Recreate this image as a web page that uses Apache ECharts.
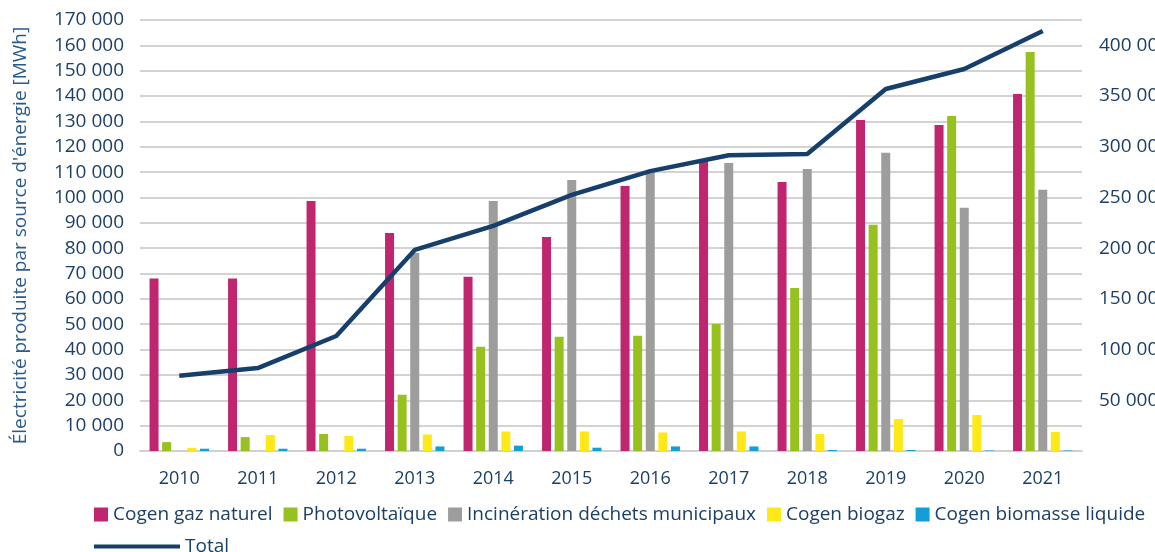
<!DOCTYPE html>
<html>
<head>
<meta charset="utf-8">
<script src="https://cdn.jsdelivr.net/npm/echarts@6/dist/echarts.min.js"></script>
<style>
  html, body { margin: 0; padding: 0; background: #fff; }
  #chart { width: 1155px; height: 552px; }
</style>
</head>
<body>
<div id="chart"></div>
<script>
var years = ['2010', '2011', '2012', '2013', '2014', '2015', '2016', '2017', '2018', '2019', '2020', '2021'];
var cogenGaz = [68000, 68000, 98600, 86000, 68700, 84400, 104500, 114500, 106100, 130600, 128600, 140800];
var photovoltaique = [3500, 5500, 6700, 22200, 41100, 45100, 45500, 50200, 64300, 89200, 132100, 157400];
var incineration = [0, 0, 0, 78100, 98600, 106900, 110000, 113600, 111200, 117600, 95900, 103000];
var biogaz = [1200, 6300, 5900, 6500, 7700, 7700, 7300, 7700, 6700, 12600, 14200, 7500];
var biomasse = [900, 900, 900, 1800, 2100, 1300, 1800, 1800, 400, 400, 200, 200];
var total = [74300, 81800, 113400, 198300, 222000, 252500, 276000, 291700, 292900, 357000, 376700, 414200];

var txt = '#1b3f66';
var fnt = '"Open Sans", sans-serif';

function fmt(v) {
  return String(v).replace(/\B(?=(\d{3})+(?!\d))/g, ' ');
}

function bar(name, data, color) {
  return {
    name: name, type: 'bar', data: data,
    barWidth: 9, barGap: '40%',
    itemStyle: { color: color }
  };
}

var chart = echarts.init(document.getElementById('chart'));
chart.setOption({
  animation: false,
  textStyle: { fontFamily: fnt },
  grid: { left: 140, right: 73, top: 20, bottom: 101, containLabel: false, outerBoundsMode: 'none' },
  legend: [{
    left: 89, top: 500,
    itemWidth: 14, itemHeight: 14, itemGap: 11,
    icon: 'rect',
    textStyle: { color: txt, fontSize: 19, fontFamily: fnt },
    data: ['Cogen gaz naturel', 'Photovoltaïque', 'Incinération déchets municipaux', 'Cogen biogaz', 'Cogen biomasse liquide']
  }, {
    left: 89, top: 532,
    itemWidth: 86, itemHeight: 4,
    icon: 'rect',
    textStyle: { color: txt, fontSize: 19, fontFamily: fnt },
    data: ['Total']
  }],
  xAxis: {
    type: 'category', data: years,
    axisLine: { lineStyle: { color: '#d0d0d0', width: 2 } },
    axisTick: { show: false },
    axisLabel: { color: txt, fontSize: 18, margin: 19, fontFamily: fnt }
  },
  yAxis: [{
    type: 'value', min: 0, max: 170000, interval: 10000,
    name: 'Électricité produite par source d\'énergie [MWh]',
    nameLocation: 'middle', nameGap: 110,
    nameTextStyle: { color: '#2a5b8c', fontSize: 19, fontFamily: fnt },
    axisLine: { show: false }, axisTick: { show: false },
    axisLabel: { color: txt, fontSize: 19, margin: 16, formatter: fmt, fontFamily: fnt },
    splitLine: { lineStyle: { color: '#d3d3d3', width: 2 } }
  }, {
    type: 'value', min: 0, max: 425000, interval: 50000,
    axisLine: { show: false }, axisTick: { show: false },
    axisLabel: { color: txt, fontSize: 19, margin: 17, formatter: fmt, fontFamily: fnt, showMinLabel: false, showMaxLabel: false },
    splitLine: { show: false }
  }],
  series: [
    bar('Cogen gaz naturel', cogenGaz, '#c0266f'),
    bar('Photovoltaïque', photovoltaique, '#97c11f'),
    bar('Incinération déchets municipaux', incineration, '#9d9d9c'),
    bar('Cogen biogaz', biogaz, '#ffe817'),
    bar('Cogen biomasse liquide', biomasse, '#129fd8'),
    {
      name: 'Total', type: 'line', yAxisIndex: 1, data: total,
      symbol: 'none', z: 5,
      lineStyle: { color: '#173f6b', width: 4.5 },
      itemStyle: { color: '#173f6b' }
    }
  ]
});
</script>
</body>
</html>
